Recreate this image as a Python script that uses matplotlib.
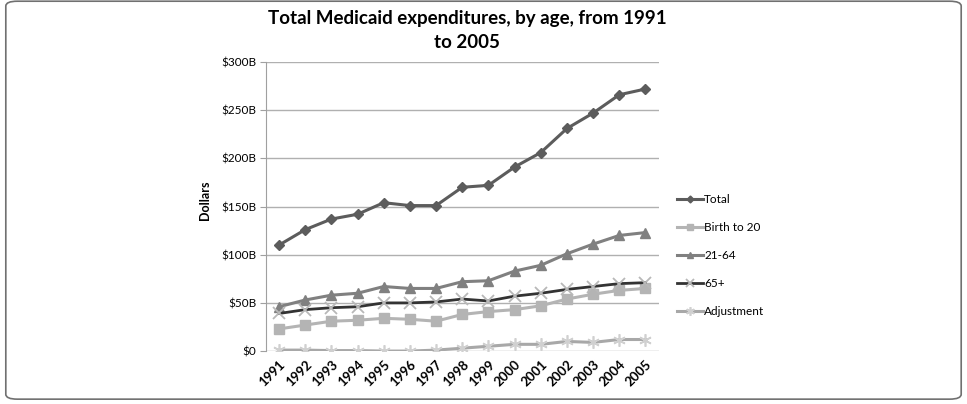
import matplotlib.pyplot as plt
from matplotlib.patches import FancyBboxPatch

plt.rcParams['font.family'] = ['Lato', 'DejaVu Sans']

years = [str(y) for y in range(1991, 2006)]
total = [110, 126, 137, 142, 154, 151, 151, 170, 172, 191, 206, 231, 247, 266, 272]
birth_to_20 = [23, 27, 31, 32, 34, 33, 31, 38, 41, 43, 47, 54, 59, 63, 65]
age_21_64 = [46, 53, 58, 60, 67, 65, 65, 72, 73, 83, 89, 101, 111, 120, 123]
age_65_plus = [39, 43, 45, 46, 50, 50, 51, 54, 52, 57, 60, 64, 67, 70, 71]
adjustment = [1, 1, 0.5, 0.5, 0, 0, 1, 3, 5, 7, 7, 10, 9, 12, 12]
y_ticks = [0, 50, 100, 150, 200, 250, 300]
y_labels = ['$0', '$50B', '$100B', '$150B', '$200B', '$250B', '$300B']

fig = plt.figure(figsize=(9.67, 4.04), dpi=100)
ax = fig.add_axes([0.275, 0.131, 0.406, 0.7155])

x = range(len(years))
ax.plot(x, total, color='#5c5c5c', lw=2.2, marker='D', ms=5, label='Total')
ax.plot(x, birth_to_20, color='#b4b4b4', lw=2.2, marker='s', ms=7, label='Birth to 20')
ax.plot(x, age_21_64, color='#808080', lw=2.2, marker='^', ms=7, label='21-64')
ax.plot(x, age_65_plus, color='#333333', lw=2.0, marker='x', ms=8, mec='#b8b8b8', mew=1.3, label='65+')
ax.plot(x, adjustment, color='#a8a8a8', lw=2.2, marker=(6, 2, 0), ms=9, mec='#d0d0d0', mew=1.2, label='Adjustment')

ax.set_xlim(-0.5, len(years) - 0.5)
ax.set_ylim(0, 300)
ax.set_yticks(y_ticks)
ax.set_yticklabels(y_labels, fontsize=8.5)
ax.set_xticks(list(x))
ax.set_xticklabels(years, fontsize=9.5, fontweight='bold', rotation=45, ha='right', va='top', rotation_mode='anchor')
ax.tick_params(axis='x', length=0, pad=5)
ax.tick_params(axis='y', length=4, color='#a0a0a0', pad=3)
ax.yaxis.grid(True, color='#b0b0b0', lw=1)
ax.set_axisbelow(True)
for side in ['top', 'right', 'bottom']:
    ax.spines[side].set_visible(False)
ax.spines['left'].set_color('#a0a0a0')

fig.text(0.212, 0.505, 'Dollars', rotation=90, fontsize=9, fontweight='bold', ha='center', va='center')
fig.text(0.483, 0.924, 'Total Medicaid expenditures, by age, from 1991\nto 2005', fontsize=13.5,
         fontweight='bold', ha='center', va='center', linespacing=1.5)

ax.legend(loc='center left', bbox_to_anchor=(1.02, 0.33), frameon=False, fontsize=8.5,
          handlelength=2.2, handletextpad=0.1, labelspacing=1.45, markerscale=0.7)

border = FancyBboxPatch((0.006, 0.012), 0.988, 0.985, boxstyle='round,pad=0,rounding_size=0.012',
                        transform=fig.transFigure, fill=False, ec='#707070', lw=1.2)
fig.patches.append(border)

fig.savefig('out.png', dpi=100)
